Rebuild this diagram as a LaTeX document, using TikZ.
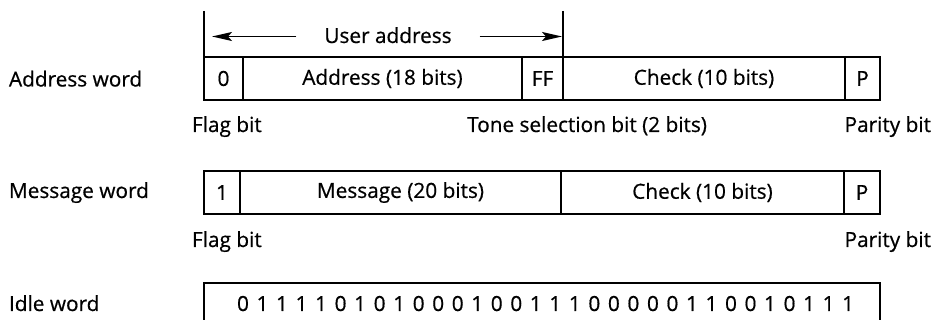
\documentclass[tikz,border=0pt]{standalone}
\usepackage{fontspec}
\setmainfont{Open Sans}[FakeBold=0.6]
\usetikzlibrary{arrows.meta}
\begin{document}
\begin{tikzpicture}[x=0.5pt,y=-0.5pt,
  every node/.style={font=\fontsize{10.4pt}{12pt}\selectfont, inner sep=0pt, outer sep=0pt},
  cell/.style={draw, line width=1.2pt, rectangle, minimum height=21.5pt, anchor=center},
  lbl/.style={anchor=base west},
  guide/.style={line width=1pt},
  dimarrow/.style={line width=0.9pt, -{Stealth[length=10pt, width=4.5pt, inset=2pt]}},
  boxline/.style={line width=1.2pt}
]
\useasboundingbox (0,0) rectangle (934,320);

% row labels
\node[lbl] (lAddr) at (9,86.5) {Address word};
\node[lbl] (lMsg)  at (9,198) {Message word};
\node[lbl] (lIdle) at (9,311) {Idle word};

% address word
\node[cell, minimum width=19.5pt] (a0)     at (223.5,78.5) {0};
\node[cell, minimum width=139.5pt] (aAddr) at (382.5,78.5) {Address (18 bits)};
\node[cell, minimum width=20.5pt] (aFF)    at (542.5,78.5) {FF};
\node[cell, minimum width=141pt] (aCheck)  at (704,78.5) {Check (10 bits)};
\node[cell, minimum width=17.5pt] (aP)     at (862.5,78.5) {P};

% user address dimension
\coordinate (vL) at (204,11);
\coordinate (vR) at (563,11);
\draw[guide] (vL) -- (a0.north west);
\draw[guide] (vR) -- (aFF.north east);
\node[anchor=base, inner xsep=14pt] (ua) at (388,43) {User address};
\coordinate (tipL) at (212,36.5);
\coordinate (tipR) at (562,36.5);
\draw[dimarrow] (ua.west |- tipL) -- (tipL);
\draw[dimarrow] (ua.east |- tipR) -- (tipR);

% address annotations
\node[lbl] (flag1) at (192,132) {Flag bit};
\node[anchor=base east] (tone) at (707,132) {Tone selection bit (2 bits)};
\node[anchor=base east] (par1) at (931,132) {Parity bit};

% message word
\node[cell, minimum width=18pt] (m1)      at (222,192.5) {1};
\node[cell, minimum width=160.5pt] (mMsg) at (400.5,192.5) {Message (20 bits)};
\node[cell, minimum width=141.5pt] (mCheck) at (702.5,192.5) {Check (10 bits)};
\node[cell, minimum width=18pt] (mP)      at (862,192.5) {P};

\node[lbl] (flag2) at (192,247) {Flag bit};
\node[anchor=base east] (par2) at (931,247) {Parity bit};

% idle word
\coordinate (iBL) at (204,320);
\coordinate (iTL) at (204,283);
\coordinate (iTR) at (880,283);
\coordinate (iBR) at (880,320);
\draw[boxline] (iBL) -- (iTL) -- (iTR) -- (iBR);
\foreach \b [count=\i from 0] in {0,1,1,1,1,0,1,0,1,0,0,0,1,0,0,1,1,1,0,0,0,0,0,1,1,0,0,1,0,1,1,1}
  \node[anchor=base] (d\i) at ({243+19.52*\i},311) {\b};
\end{tikzpicture}
\end{document}
